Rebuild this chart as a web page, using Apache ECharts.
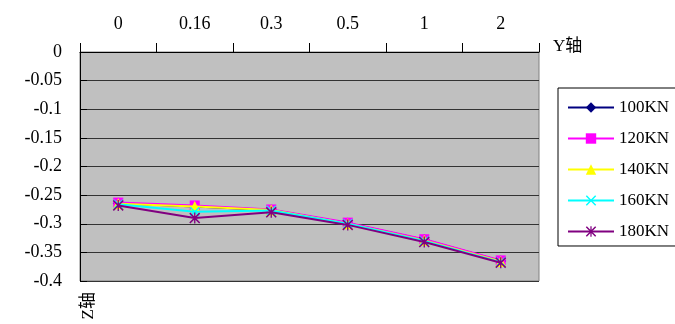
<!DOCTYPE html>
<html>
<head>
<meta charset="utf-8">
<script src="https://cdn.jsdelivr.net/npm/echarts@6/dist/echarts.min.js"></script>
<style>html,body{margin:0;padding:0;background:#fff;}#c{width:675px;height:324px;}</style>
</head>
<body>
<div id="c"></div>
<script>
const categories = ['0', '0.16', '0.3', '0.5', '1', '2'];
const seriesNames = ['100KN', '120KN', '140KN', '160KN', '180KN'];
const s100 = [-0.264, -0.270, -0.276, -0.299, -0.328, -0.365];
const s120 = [-0.263, -0.268, -0.275, -0.298, -0.327, -0.364];
const s140 = [-0.265, -0.270, -0.276, -0.300, -0.329, -0.366];
const s160 = [-0.266, -0.279, -0.277, -0.300, -0.330, -0.367];
const s180 = [-0.268, -0.290, -0.280, -0.302, -0.332, -0.368];
const yMin = -0.4, yMax = 0, yStep = 0.05;

const FONT = '"Liberation Serif", "Noto Sans CJK SC", serif';
const colors = ['#000080', '#FF00FF', '#FFFF00', '#00FFFF', '#800080'];
const xSym = 'path://M0,1 L1,0 L5,4 L9,0 L10,1 L6,5 L10,9 L9,10 L5,6 L1,10 L0,9 L4,5 Z';
const starSym = 'path://M0,1 L1,0 L10,9 L9,10 Z M9,0 L10,1 L1,10 L0,9 Z M4.4,0 L5.6,0 L5.6,10 L4.4,10 Z';
const symbols = ['diamond', 'rect', 'triangle', xSym, starSym];
const sizes = [11, 10, 11, 10, 11];
const values = [s100, s120, s140, s160, s180];

const chart = echarts.init(document.getElementById('c'));
chart.setOption({
  backgroundColor: '#ffffff',
  animation: false,
  textStyle: { fontFamily: FONT },
  grid: {
    left: 80, right: 136, top: 52, bottom: 43,
    show: true, backgroundColor: '#C0C0C0', borderColor: '#808080', borderWidth: 1
  },
  legend: {
    orient: 'vertical', left: 558, top: 88,
    backgroundColor: '#ffffff', borderColor: '#000000', borderWidth: 1,
    padding: [11, 30, 6, 9],
    itemWidth: 46, itemHeight: 13, itemGap: 14,
    textStyle: { fontSize: 17, color: '#000', fontFamily: FONT },
    data: seriesNames
  },
  xAxis: {
    type: 'category', position: 'top', data: categories, boundaryGap: true,
    name: 'Y轴', nameLocation: 'end', nameGap: 14,
    nameTextStyle: { fontSize: 17, color: '#000', fontFamily: FONT, verticalAlign: 'bottom', align: 'left', padding: [0, 0, -3, 0] },
    axisLine: { lineStyle: { color: '#000', width: 1 } },
    axisTick: { show: true, length: 9, inside: false, lineStyle: { color: '#000' } },
    axisLabel: { fontSize: 18, color: '#000', margin: 19, fontFamily: FONT },
    splitLine: { show: false }
  },
  yAxis: {
    type: 'value', min: yMin, max: yMax, interval: yStep,
    name: 'Z轴', nameLocation: 'start', nameGap: 11, nameRotate: 90,
    nameTextStyle: { fontSize: 17, color: '#000', fontFamily: FONT, align: 'right', verticalAlign: 'top' },
    axisLine: { show: true, lineStyle: { color: '#000', width: 1 } },
    axisTick: { show: true, inside: true, length: 7, lineStyle: { color: '#000' } },
    axisLabel: { fontSize: 18, color: '#000', margin: 18, fontFamily: FONT },
    splitLine: { show: true, lineStyle: { color: '#333333', width: 1 } }
  },
  series: seriesNames.map((n, i) => ({
    name: n, type: 'line', data: values[i],
    symbol: symbols[i], symbolSize: sizes[i], symbolKeepAspect: true,
    lineStyle: { color: colors[i], width: 2 },
    itemStyle: { color: colors[i] },
    z: 2 + i
  }))
});
</script>
</body>
</html>
